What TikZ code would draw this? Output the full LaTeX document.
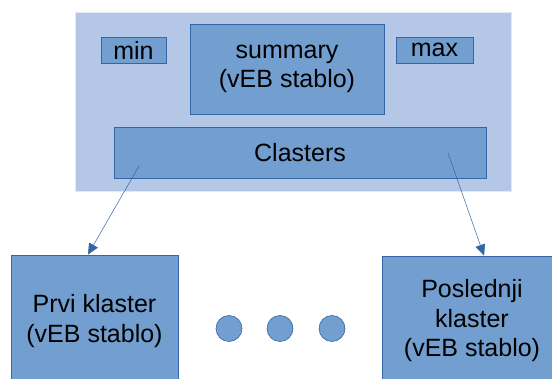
\documentclass[tikz,border=0pt]{standalone}
\usepackage{fontspec}
\setmainfont{Liberation Sans}
\usetikzlibrary{arrows.meta}
\definecolor{outerfill}{HTML}{B4C7E7}
\definecolor{boxfill}{HTML}{729FCF}
\definecolor{boxline}{HTML}{3465A4}
\tikzset{
  box/.style={draw=boxline, fill=boxfill, line width=0.8pt, inner sep=0pt, align=center,
    font=\fontsize{25}{29.5}\selectfont, text=black},
  dot/.style={circle, draw=boxline, fill=boxfill, line width=0.6pt, minimum size=26pt, inner sep=0pt},
  link/.style={draw=boxline, line width=0.5pt, -{Triangle[length=11pt,width=10pt]}}
}
\begin{document}
\begin{tikzpicture}[x=1pt,y=-1pt]
\useasboundingbox (0,0) rectangle (552,379);
\clip (0,0) rectangle (552,379);
\node[draw=white!60!outerfill, fill=outerfill, line width=0.8pt, minimum width=436pt, minimum height=179pt, inner sep=0pt] (outer) at (293,101.5) {};
\node[box, minimum width=65pt, minimum height=26pt] (min) at (133.5,50) {min};
\node[box, minimum width=194pt, minimum height=90pt] (summary) at (287,69) {summary\\(vEB stablo)};
\node[box, minimum width=77pt, minimum height=26pt] (max) at (434.5,50) {max};
\node[box, minimum width=372pt, minimum height=51pt] (clasters) at (300,152.5) {Clasters};
\node[box, minimum width=167pt, minimum height=132pt] (prvi) at (94.5,321) {Prvi klaster\\(vEB stablo)};
\node[box, minimum width=180pt, minimum height=130pt] (posl) at (472,321) {Poslednji\\klaster\\(vEB stablo)};
\node[dot] (d1) at (229,328.5) {};
\node[dot] (d2) at (280,328.5) {};
\node[dot] (d3) at (332,328.5) {};
\coordinate (s1) at (139,166);
\coordinate (s2) at (448,153);
\draw[link] (s1) -- (prvi.north -| 88,0);
\draw[link] (s2) -- (posl.north -| 484,0);
\end{tikzpicture}
\end{document}
